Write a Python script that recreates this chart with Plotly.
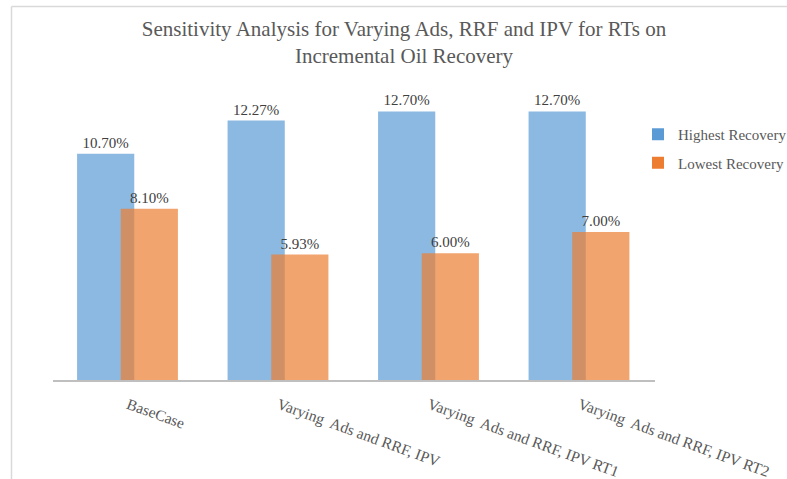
import plotly.graph_objects as go

categories = ["BaseCase", "Varying  Ads and RRF, IPV", "Varying  Ads and RRF, IPV RT1", "Varying  Ads and RRF, IPV RT2"]
highest = [10.70, 12.27, 12.70, 12.70]
lowest = [8.10, 5.93, 6.00, 7.00]
series_names = ["Highest Recovery", "Lowest Recovery"]

W, H = 787, 479
L, R, T, B = 53, 132, 84, 99
pw, ph = W - L - R, H - T - B

def px(x):
    return (x - L) / pw

def py(y):
    return (H - B - y) / ph

serif = "Liberation Serif, Times New Roman, serif"

fig = go.Figure()
fig.add_trace(go.Bar(
    x=categories, y=highest, name=series_names[0],
    marker=dict(color="#5B9BD5", opacity=0.7, line=dict(width=0)),
    width=0.38, offset=-0.34,
    text=[f"{v:.2f}%" for v in highest], textposition="outside",
    textfont=dict(family=serif, size=15, color="#404040"),
    cliponaxis=False, legendgroup="a",
))
fig.add_trace(go.Bar(
    x=categories, y=lowest, name=series_names[1],
    marker=dict(color="#ED7D31", opacity=0.7, line=dict(width=0)),
    width=0.38, offset=-0.05,
    text=[f"{v:.2f}%" for v in lowest], textposition="outside",
    textfont=dict(family=serif, size=15, color="#404040"),
    cliponaxis=False, legendgroup="b",
))

fig.update_layout(
    width=W, height=H,
    margin=dict(l=L, r=R, t=T, b=B, autoexpand=False),
    paper_bgcolor="white", plot_bgcolor="white",
    barmode="overlay",
    title=dict(
        text="Sensitivity Analysis for Varying Ads, RRF and IPV for RTs on<br>Incremental Oil Recovery",
        x=404 / W, xanchor="center", y=1 - 36 / H, yanchor="middle",
        font=dict(family=serif, size=21, color="#595959"),
    ),
    xaxis=dict(
        showline=True, linecolor="#BFBFBF", linewidth=2,
        showgrid=False, ticks="", tickangle=20,
        tickfont=dict(family=serif, size=15.5, color="#595959"),
        ticklabelstandoff=8,
    ),
    yaxis=dict(range=[0, 14], visible=False, showgrid=False, zeroline=False),
    legend=dict(
        x=px(638), xanchor="left", y=py(118), yanchor="top",
        font=dict(family=serif, size=15, color="#595959"),
        tracegroupgap=6, bgcolor="rgba(0,0,0,0)",
    ),
    showlegend=True,
)

# chart area border (partially visible)
fig.add_shape(type="line", xref="paper", yref="paper",
              x0=px(11.5), x1=px(11.5), y0=py(6.5), y1=py(H + 5),
              line=dict(color="#D9D9D9", width=1.5))
fig.add_shape(type="line", xref="paper", yref="paper",
              x0=px(11.5), x1=px(W + 5), y0=py(6.5), y1=py(6.5),
              line=dict(color="#D9D9D9", width=1.5))

fig.write_html("out.html", config={"displayModeBar": False},
               post_script="document.body.style.margin='0';document.body.style.overflow='hidden';")
